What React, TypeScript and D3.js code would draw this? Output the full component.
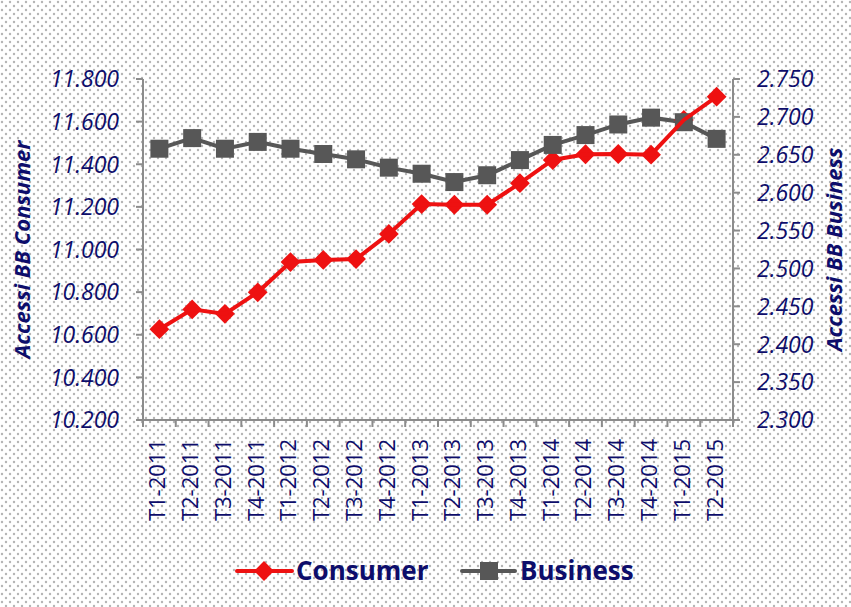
import React from 'react';
import * as d3 from 'd3';

const categories = [
  'T1-2011', 'T2-2011', 'T3-2011', 'T4-2011',
  'T1-2012', 'T2-2012', 'T3-2012', 'T4-2012',
  'T1-2013', 'T2-2013', 'T3-2013', 'T4-2013',
  'T1-2014', 'T2-2014', 'T3-2014', 'T4-2014',
  'T1-2015', 'T2-2015',
];

// Accessi BB Consumer (thousands, left axis)
const consumer = [
  10626, 10719, 10698, 10799,
  10941, 10951, 10955, 11073,
  11213, 11210, 11210, 11311,
  11420, 11447, 11448, 11445,
  11608, 11717,
];

// Accessi BB Business (thousands, right axis)
const business = [
  2658, 2672, 2658, 2667,
  2658, 2651, 2644, 2633,
  2625, 2614, 2623, 2643,
  2663, 2676, 2690, 2699,
  2693, 2671,
];

const leftTicks = [10200, 10400, 10600, 10800, 11000, 11200, 11400, 11600, 11800];
const rightTicks = [2300, 2350, 2400, 2450, 2500, 2550, 2600, 2650, 2700, 2750];

const W = 851;
const H = 607;
const plot = { left: 143, right: 733, top: 79, bottom: 420 };
const navy = '#0d0d6b';
const axisGray = '#8c8c8c';
const red = '#ee1111';
const gray = '#575757';
const font = '"Open Sans", "Liberation Sans", sans-serif';

const it = d3.formatLocale({ decimal: ',', thousands: '.', grouping: [3], currency: ['€', ''] });
const fmt = it.format(',.0f');

export default function App() {
  const x = d3.scaleBand<string>().domain(categories).range([plot.left, plot.right]).padding(0);
  const yL = d3.scaleLinear().domain([10200, 11800]).range([plot.bottom, plot.top]);
  const yR = d3.scaleLinear().domain([2300, 2750]).range([plot.bottom, plot.top]);
  const cx = (c: string) => (x(c) as number) + x.bandwidth() / 2;

  const consumerLine = d3.line<number>().x((_, i) => cx(categories[i])).y(d => yL(d))(consumer) || '';
  const businessLine = d3.line<number>().x((_, i) => cx(categories[i])).y(d => yR(d))(business) || '';

  const diamond = d3.symbol().type(d3.symbolSquare).size(14 * 14)() || '';
  const square = d3.symbol().type(d3.symbolSquare).size(18 * 18)() || '';

  const midY = (plot.top + plot.bottom) / 2;

  return (
    <svg width={W} height={H} style={{ position: 'absolute', left: 0, top: 0 }} fontFamily={font}>
      <defs>
        <pattern id="dots" width={8} height={8} patternUnits="userSpaceOnUse">
          <rect width={8} height={8} fill="#ffffff" />
          <circle cx={2} cy={2} r={1.2} fill="#b4b4b4" />
          <circle cx={6} cy={6} r={1.2} fill="#b4b4b4" />
        </pattern>
      </defs>
      <rect width={W} height={H} fill="url(#dots)" />

      {/* left axis */}
      <line x1={plot.left} x2={plot.left} y1={plot.top} y2={plot.bottom} stroke={axisGray} strokeWidth={2} />
      {leftTicks.map(t => (
        <g key={'l' + t}>
          <line x1={plot.left - 7} x2={plot.left} y1={yL(t)} y2={yL(t)} stroke={axisGray} strokeWidth={2} />
          <text x={plot.left - 24} y={yL(t)} dy="0.36em" textAnchor="end" fontSize={23} fontStyle="italic" fill={navy}>
            {fmt(t)}
          </text>
        </g>
      ))}

      {/* right axis */}
      <line x1={plot.right} x2={plot.right} y1={plot.top} y2={plot.bottom} stroke={axisGray} strokeWidth={2} />
      {rightTicks.map(t => (
        <g key={'r' + t}>
          <line x1={plot.right} x2={plot.right + 7} y1={yR(t)} y2={yR(t)} stroke={axisGray} strokeWidth={2} />
          <text x={plot.right + 24} y={yR(t)} dy="0.36em" textAnchor="start" fontSize={23} fontStyle="italic" fill={navy}>
            {fmt(t)}
          </text>
        </g>
      ))}

      {/* bottom axis */}
      <line x1={plot.left - 7} x2={plot.right + 7} y1={plot.bottom} y2={plot.bottom} stroke={axisGray} strokeWidth={2} />
      {categories.concat(['']).map((c, i) => {
        const xx = i < categories.length ? (x(c) as number) : plot.right;
        return <line key={'xt' + i} x1={xx} x2={xx} y1={plot.bottom} y2={plot.bottom + 7} stroke={axisGray} strokeWidth={2} />;
      })}
      {categories.map(c => (
        <text
          key={'xl' + c}
          transform={`translate(${cx(c) - 2},${plot.bottom + 19}) rotate(-90)`}
          dy="0.36em"
          textAnchor="end"
          fontSize={22}
          fill={navy}
        >
          {c}
        </text>
      ))}

      {/* axis titles */}
      <text
        transform={`translate(22,${midY}) rotate(-90)`}
        dy="0.36em"
        textAnchor="middle"
        fontSize={22}
        fontWeight="bold"
        fontStyle="italic"
        fill={navy}
      >
        Accessi BB Consumer
      </text>
      <text
        transform={`translate(834,${midY}) rotate(-90)`}
        dy="0.36em"
        textAnchor="middle"
        fontSize={22}
        fontWeight="bold"
        fontStyle="italic"
        fill={navy}
      >
        Accessi BB Business
      </text>

      {/* series */}
      <path d={businessLine} fill="none" stroke={gray} strokeWidth={4} />
      {consumer.map((v, i) => (
        <path key={'cm' + i} d={diamond} transform={`translate(${cx(categories[i])},${yL(v)}) rotate(45)`} fill={red} />
      ))}
      {business.map((v, i) => (
        <path key={'bm' + i} d={square} transform={`translate(${cx(categories[i])},${yR(v)})`} fill={gray} />
      ))}
      <path d={consumerLine} fill="none" stroke={red} strokeWidth={4} />

      {/* legend */}
      <g>
        <line x1={237} x2={292} y1={571} y2={571} stroke={red} strokeWidth={4} strokeLinecap="round" />
        <path d={diamond} transform="translate(264,571) rotate(45)" fill={red} />
        <text x={296} y={571} dy="0.36em" fontSize={26} fontWeight="bold" fill={navy}>Consumer</text>
        <line x1={462} x2={515} y1={571} y2={571} stroke={gray} strokeWidth={4} strokeLinecap="round" />
        <path d={square} transform="translate(489,571)" fill={gray} />
        <text x={520} y={571} dy="0.36em" fontSize={26} fontWeight="bold" fill={navy}>Business</text>
      </g>
    </svg>
  );
}
